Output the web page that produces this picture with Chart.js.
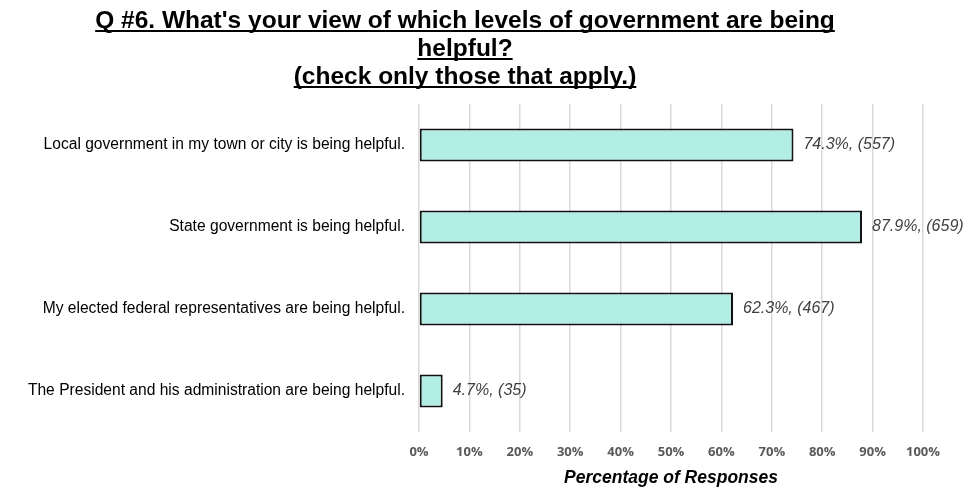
<!DOCTYPE html>
<html>
<head>
<meta charset="utf-8">
<script src="https://cdn.jsdelivr.net/npm/chart.js@4"></script>
<style>
  html, body { margin: 0; padding: 0; background: #ffffff; }
  #wrap { width: 974px; height: 495px; position: relative; }
</style>
</head>
<body>
<div id="wrap"><canvas id="govChart" width="974" height="495"></canvas></div>
<script>
// chart values
const titleLines = [
    "Q #6. What's your view of which levels of government are being",
    'helpful?',
    '(check only those that apply.)'
];
const categories = [
    'Local government in my town or city is being helpful.',
    'State government is being helpful.',
    'My elected federal representatives are being helpful.',
    'The President and his administration are being helpful.'
];
const percentages = [74.3, 87.9, 62.3, 4.7];
const counts = [557, 659, 467, 35];
const xTicks = [0, 10, 20, 30, 40, 50, 60, 70, 80, 90, 100];

// Title drawn with underline
const underlinedTitle = {
    id: 'underlinedTitle',
    afterDraw(chart) {
        const c = chart.ctx;
        c.save();
        c.font = 'bold 24.5px "Liberation Sans", Arial, sans-serif';
        c.fillStyle = '#000';
        c.strokeStyle = '#000';
        c.lineWidth = 2;
        c.textAlign = 'center';
        c.textBaseline = 'alphabetic';
        const cx = 465;
        titleLines.forEach(function(line, i) {
            const y = 28 + i * 28;
            c.fillText(line, cx, y);
            const w = c.measureText(line).width;
            c.beginPath();
            c.moveTo(cx - w / 2, y + 3);
            c.lineTo(cx + w / 2, y + 3);
            c.stroke();
        });
        c.restore();
    }
};

// value labels at the end of each bar
const barLabels = {
    id: 'barLabels',
    afterDatasetsDraw(chart) {
        const c = chart.ctx;
        const meta = chart.getDatasetMeta(0);
        c.save();
        c.font = 'italic 16px "Liberation Sans", Arial, sans-serif';
        c.fillStyle = '#404040';
        c.textAlign = 'left';
        c.textBaseline = 'middle';
        meta.data.forEach(function(bar, i) {
            c.fillText(percentages[i].toFixed(1) + '%, (' + counts[i] + ')', bar.x + 10, bar.y);
        });
        c.restore();
    }
};

const ctx = document.getElementById('govChart').getContext('2d');
new Chart(ctx, {
    type: 'bar',
    data: {
        labels: categories,
        datasets: [{
            data: percentages,
            backgroundColor: '#b2eee6',
            borderColor: '#111111',
            borderWidth: 2,
            borderSkipped: false,
            categoryPercentage: 1,
            barPercentage: 0.4
        }]
    },
    options: {
        indexAxis: 'y',
        responsive: false,
        animation: false,
        layout: { padding: { top: 104, right: 51, left: 0, bottom: 0 } },
        plugins: {
            legend: { display: false },
            tooltip: { enabled: false },
            title: { display: false }
        },
        scales: {
            x: {
                min: 0,
                max: 100,
                afterBuildTicks: function(scale) {
                    scale.ticks = xTicks.map(v => ({ value: v }));
                },
                afterFit: function(scale) { scale.height = 63; },
                grid: { color: '#d9d9d9', lineWidth: 1.5, drawTicks: false },
                border: { display: false },
                ticks: {
                    padding: 12,
                    color: '#595959',
                    font: { family: '"Open Sans", sans-serif', size: 13, weight: 'bold' },
                    callback: v => v + '%'
                },
                title: {
                    display: true,
                    text: 'Percentage of Responses',
                    color: '#000',
                    padding: { top: 4, bottom: 6 },
                    font: { family: '"Liberation Sans", Arial, sans-serif', size: 17.5, weight: 'bold', style: 'italic' }
                }
            },
            y: {
                afterFit: function(scale) { scale.width = 419; },
                grid: { display: false, drawTicks: false },
                border: { display: false },
                ticks: {
                    padding: 14,
                    color: '#000',
                    font: { family: '"Liberation Sans", Arial, sans-serif', size: 15.6 }
                }
            }
        }
    },
    plugins: [underlinedTitle, barLabels]
});
</script>
</body>
</html>
